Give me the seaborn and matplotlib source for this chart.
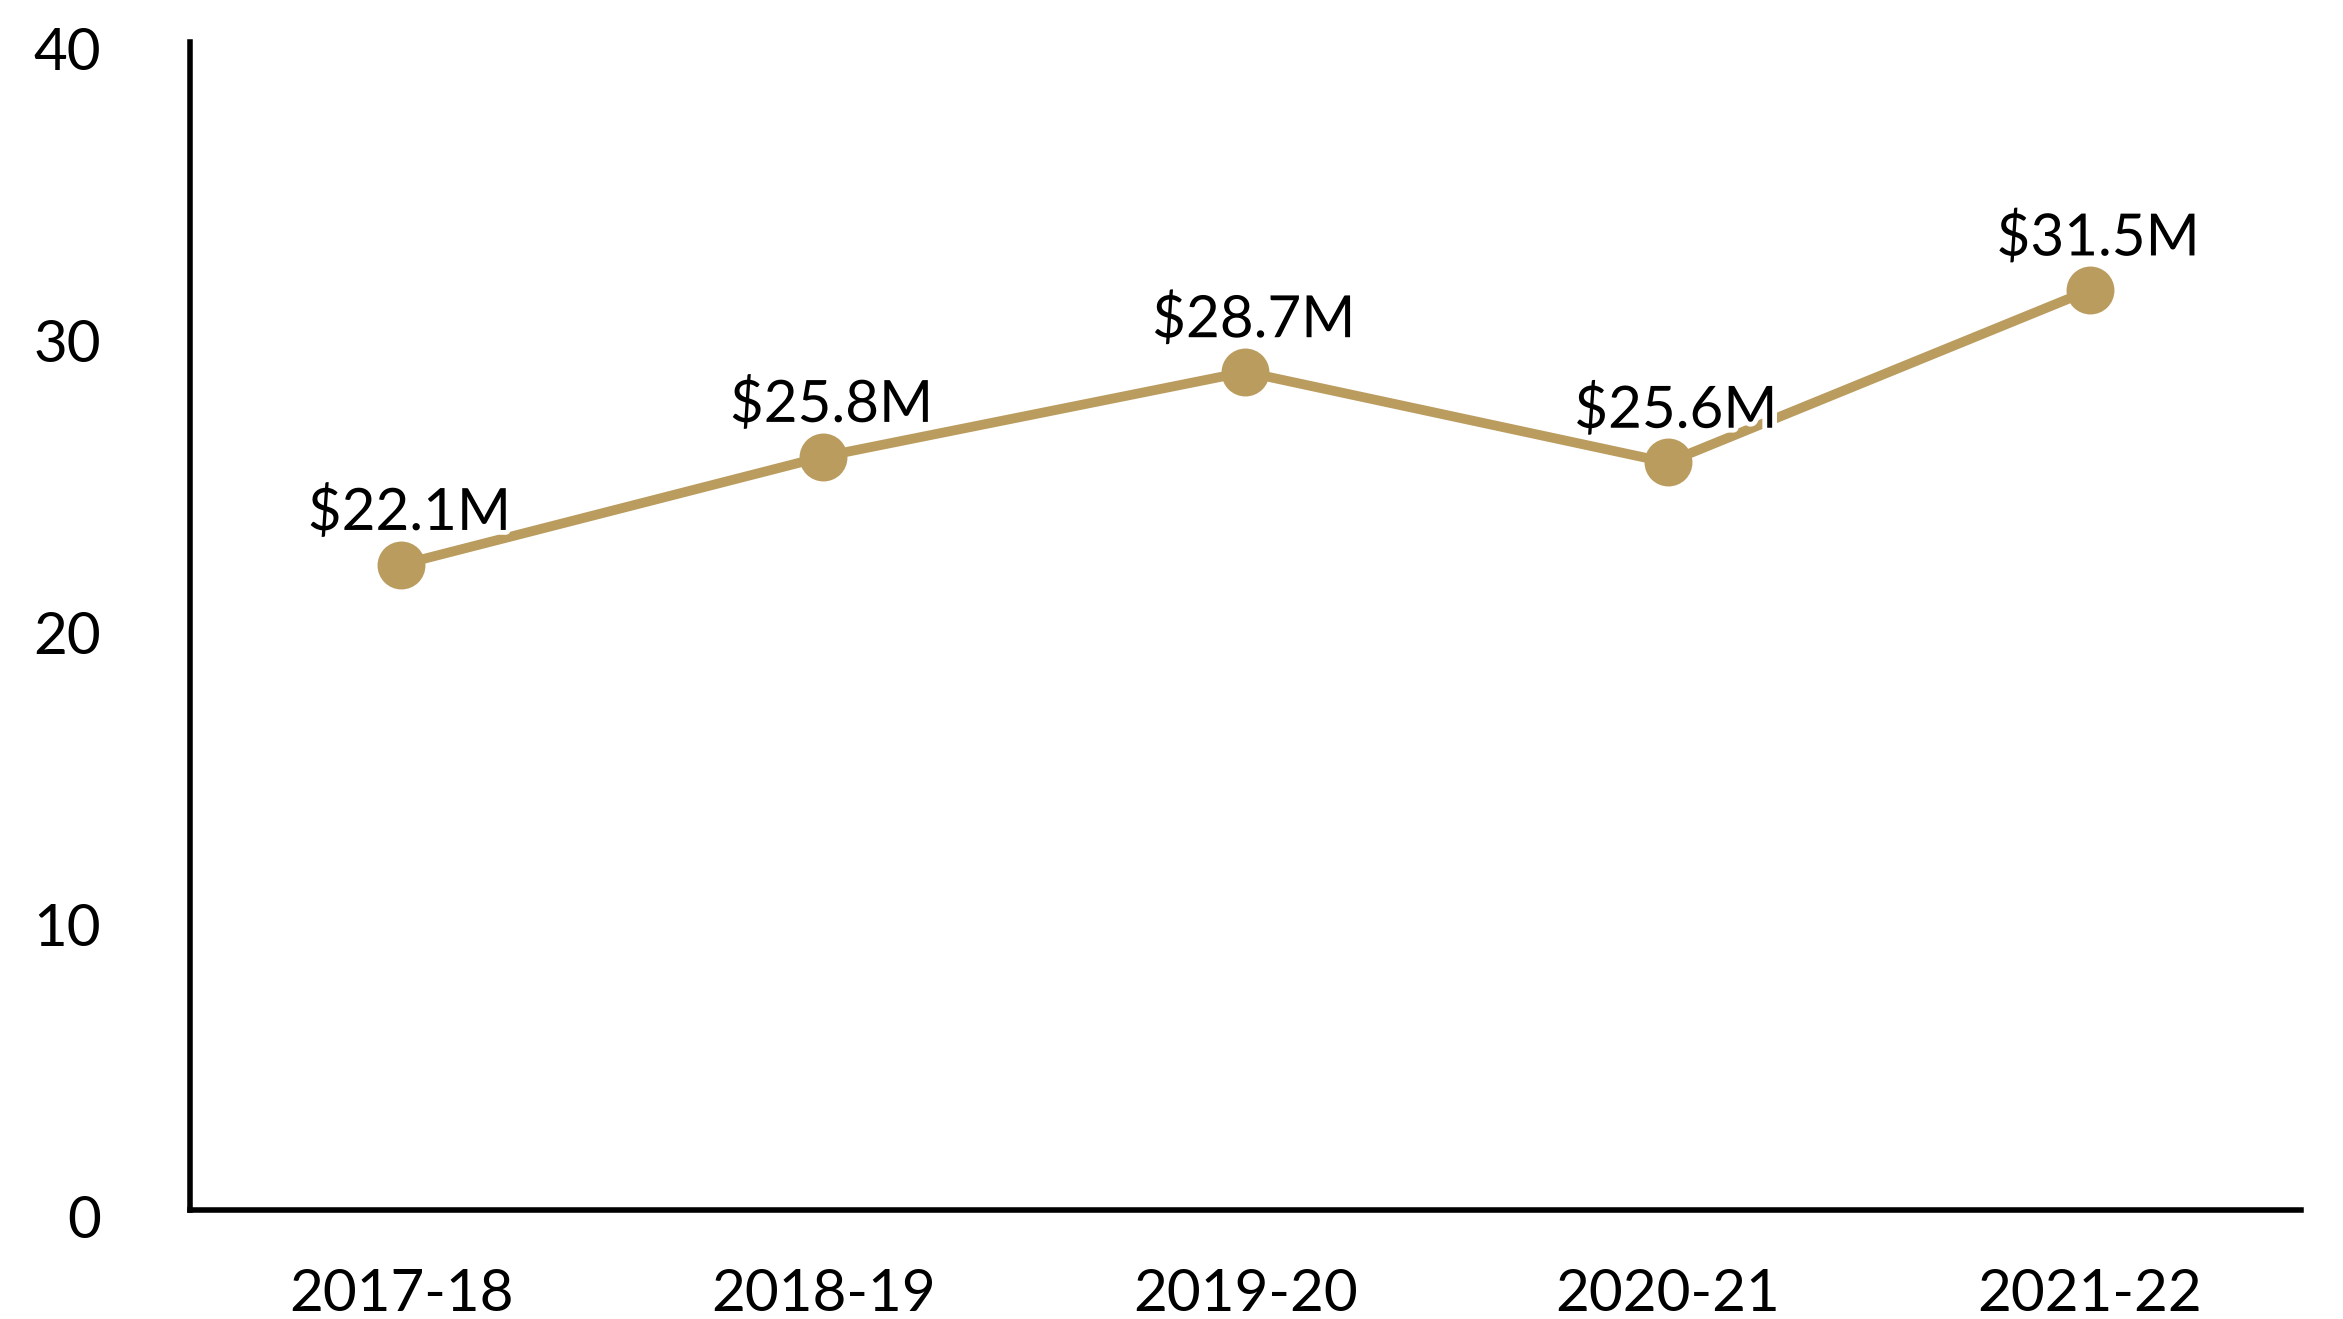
import matplotlib
matplotlib.use("Agg")
import matplotlib.pyplot as plt
import matplotlib.patheffects as pe
import matplotlib.transforms as mtransforms
import seaborn as sns
import pandas as pd

# Annual totals ($ millions) by fiscal year
years = ["2017-18", "2018-19", "2019-20", "2020-21", "2021-22"]
totals = [22.1, 25.8, 28.7, 25.6, 31.5]
labels = ["$22.1M", "$25.8M", "$28.7M", "$25.6M", "$31.5M"]
y_ticks = [0, 10, 20, 30, 40]

gold = "#BA9C5F"

sns.set_theme(style="white")
plt.rcParams["font.family"] = ["Lato", "DejaVu Sans"]

fig = plt.figure(figsize=(23.43, 13.19), dpi=100)
ax = fig.add_axes([0.0811, 0.0826, 0.9009, 0.8856])

df = pd.DataFrame({"year": years, "total": totals})
sns.lineplot(data=df, x="year", y="total", ax=ax, color=gold, linewidth=7,
             marker="o", markersize=34.5, markeredgewidth=0, sort=False)

for i, (v, lab) in enumerate(zip(totals, labels)):
    ax.annotate(lab, xy=(i, v), xytext=(6, 25), textcoords="offset points",
                ha="center", va="baseline", fontsize=42, color="black",
                path_effects=[pe.withStroke(linewidth=7, foreground="white")],
                zorder=5)

ax.set_xlim(-0.5, 4.5)
ax.set_ylim(0, 40)
ax.set_yticks(y_ticks)
ax.set_yticklabels([str(t) for t in y_ticks])
ax.set_xlabel("")
ax.set_ylabel("")

for side in ["top", "right"]:
    ax.spines[side].set_visible(False)
for side in ["left", "bottom"]:
    ax.spines[side].set_color("black")
    ax.spines[side].set_linewidth(4)

ax.tick_params(axis="both", length=0, labelsize=42, colors="black")
ax.tick_params(axis="y", pad=64)
ax.tick_params(axis="x", pad=42)
ax.grid(False)

# nudge the value labels on the y axis slightly downward
shift = mtransforms.ScaledTranslation(0, -5 / 72, fig.dpi_scale_trans)
for lbl in ax.get_yticklabels():
    lbl.set_transform(lbl.get_transform() + shift)

fig.savefig("out.png", dpi=100, facecolor="white")
